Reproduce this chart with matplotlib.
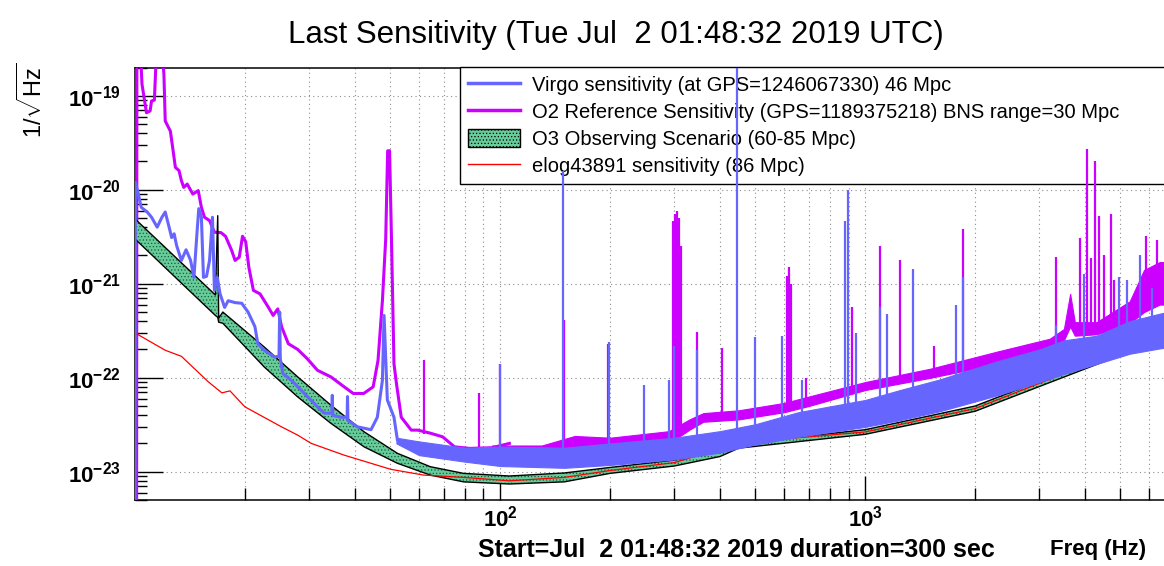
import numpy as np
import matplotlib.pyplot as plt
from matplotlib.lines import Line2D
from matplotlib.patches import Patch
from matplotlib.ticker import FixedLocator, LogLocator, FuncFormatter, NullFormatter

plt.rcParams['font.family'] = ['Liberation Sans', 'DejaVu Sans']
plt.rcParams['mathtext.fontset'] = 'custom'
plt.rcParams['mathtext.rm'] = 'Liberation Sans'
plt.rcParams['mathtext.bf'] = 'Liberation Sans:bold'
plt.rcParams['mathtext.it'] = 'Liberation Sans:italic'
plt.rcParams['hatch.linewidth'] = 0.5

# Virgo sensitivity, low-frequency trace (Hz, 1/sqrt(Hz))
virgo_f = [10.0, 10.02, 10.2, 10.4, 10.8, 11.1, 11.5, 11.85, 12.1, 12.4, 12.6, 12.8, 13.0, 13.4,
           13.8, 14.2, 14.5, 14.8, 14.95, 15.2, 15.4, 15.7, 16.0, 16.3, 16.5, 16.8, 17.1, 17.6,
           18.0, 18.8, 19.6, 20.4, 21.3, 21.7, 22.6, 24.1, 24.8, 24.9, 25.0, 25.4, 26.8, 29.1,
           31.6, 33.0, 34.6, 34.7, 34.8, 36.6, 38.1, 38.2, 38.3, 40.7, 44.3, 46.1, 47.6, 48.1,
           49.1, 51.2, 52.3]
virgo_v = [1e-24, 1.2e-20, 9.2e-21, 6.5e-21, 5.8e-21, 5.1e-21, 4.0e-21, 5.1e-21, 5.8e-21, 4.0e-21,
           3.1e-21, 3.4e-21, 2.55e-21, 1.77e-21, 2.3e-21, 1.77e-21, 1.17e-21, 3.7e-21, 6.3e-21,
           5.1e-21, 1.17e-21, 1.2e-21, 1.77e-21, 5.1e-21, 8.5e-22, 1.17e-21, 7.8e-22, 5.6e-22,
           6.6e-22, 6.3e-22, 6.2e-22, 5.0e-22, 3.5e-22, 2.3e-22, 1.96e-22, 1.66e-22, 1.7e-22,
           5.0e-22, 1.6e-22, 1.11e-22, 9.4e-23, 6.8e-23, 4.9e-23, 4.2e-23, 4.2e-23, 6.5e-23,
           4.0e-23, 3.8e-23, 3.8e-23, 6.3e-23, 3.5e-23, 3.0e-23, 2.8e-23, 3.8e-23, 9.4e-23,
           4.6e-22, 5.8e-23, 3.8e-23, 2.2e-23]
# Virgo noise band above ~50 Hz
vband_f = [52, 60, 80, 100, 150, 200, 300, 400, 500, 656, 1000, 1230, 1600, 2300, 3000, 3500,
           4300, 5300, 6400, 8000]
vband_lo = [2.0e-23, 1.5e-23, 1.28e-23, 1.15e-23, 1.1e-23, 1.18e-23, 1.35e-23, 1.6e-23, 1.95e-23,
            2.35e-23, 3.0e-23, 3.5e-23, 4.4e-23, 6.5e-23, 9.0e-23, 1.1e-22, 1.4e-22, 1.8e-22,
            2.05e-22, 2.3e-22]
vband_hi = [2.3e-23, 2.1e-23, 1.8e-23, 1.85e-23, 1.8e-23, 2.0e-23, 2.3e-23, 2.7e-23, 3.2e-23,
            4.3e-23, 5.8e-23, 7.3e-23, 9.6e-23, 1.5e-22, 2.0e-22, 2.5e-22, 2.8e-22, 4.0e-22,
            4.8e-22, 5.8e-22]
# Virgo lines
vline_f = [100, 148.7, 198.6, 248, 290, 300, 347, 446, 499, 592, 670, 880, 899, 946, 1100, 1145,
           1352, 1774, 1849, 3320, 3975, 4943, 5200, 5660, 6100]
vline_top = [1.41e-22, 1.6e-20, 2.4e-22, 8.3e-23, 9.4e-23, 2.2e-22, 1.96e-22, 1e-18, 2.7e-22,
             2.8e-22, 9.4e-23, 4.6e-21, 1.0e-20, 3.0e-22, 5.6e-22, 4.8e-22, 1.45e-21, 5.9e-22,
             1.17e-21, 3.6e-22, 1.28e-21, 1.17e-21, 1.1e-21, 2.0e-21, 9e-22]
vline_base = [1.5e-23, 1.5e-23, 1.6e-23, 1.8e-23, 2.0e-23, 2.0e-23, 2.2e-23, 2.5e-23, 2.6e-23,
              3.0e-23, 3.4e-23, 4.0e-23, 4.0e-23, 4.2e-23, 5.0e-23, 5.2e-23, 6.0e-23, 8e-23,
              8.5e-23, 1.8e-22, 2.2e-22, 2.8e-22, 3.0e-22, 3.2e-22, 3.5e-22]

# O2 reference sensitivity
o2_f = [10.1, 10.12, 10.35, 10.45, 10.75, 11.0, 11.1, 11.3, 11.45, 11.85, 12.0, 12.1, 12.5, 12.7,
        12.9, 13.2, 13.4, 13.6, 13.9, 14.4, 14.9, 15.2, 15.5, 16.0, 16.5, 17.2, 17.7, 18.4, 18.8,
        19.3, 19.7, 20.1, 20.5, 21.1, 22.0, 23.2, 23.9, 24.6, 25.2, 26.3, 27.9, 29.6, 31.6, 34.4,
        37.4, 39.6, 42.3, 44.9, 46.3, 47.6, 48.6, 49.2, 49.8, 50.4, 51.2, 52.0, 53.6, 57.1, 59.5,
        64.4, 69.6, 75.0, 82.5, 95.0, 106]
o2_v = [1e-24, 3e-19, 3e-19, 1.33e-19, 6.6e-20, 6.9e-20, 8.8e-20, 9.0e-20, 3e-19, 3e-19, 1.7e-19,
        5.4e-20, 4.2e-20, 2.7e-20, 1.73e-20, 1.6e-20, 1.25e-20, 1.06e-20, 1.15e-20, 9.0e-21,
        9.8e-21, 6.5e-21, 5.1e-21, 4.7e-21, 3.53e-21, 3.5e-21, 3.2e-21, 2.26e-21, 1.77e-21,
        1.92e-21, 3.2e-21, 2.8e-21, 1.5e-21, 8.5e-22, 7.8e-22, 5.6e-22, 4.6e-22, 5.4e-22, 3.5e-22,
        2.3e-22, 2.0e-22, 1.6e-22, 1.2e-22, 1.02e-22, 8.0e-23, 6.8e-23, 6.8e-23, 8.0e-23, 1.53e-22,
        6.6e-22, 3e-21, 2.6e-20, 2.6e-20, 3e-21, 1.41e-22, 8.7e-23, 3.8e-23, 2.77e-23, 2.77e-23,
        2.57e-23, 2.35e-23, 1.84e-23, 1.77e-23, 1.8e-23, 2.0e-23]
o2band_f = [95, 130, 160, 200, 290, 330, 360, 450, 600, 700, 1000, 1510, 2300, 3200, 3500, 3640,
            3750, 4300, 5300, 5800, 6400, 8000]
o2band_lo = [1.6e-23, 1.6e-23, 1.75e-23, 1.75e-23, 2.0e-23, 2.8e-23, 3.4e-23, 3.6e-23, 4.3e-23,
             5.0e-23, 7.4e-23, 1.0e-22, 1.4e-22, 2.1e-22, 2.5e-22, 3.5e-22, 2.8e-22, 2.9e-22,
             3.8e-22, 5e-22, 6e-22, 6e-22]
o2band_hi = [1.9e-23, 1.9e-23, 2.4e-23, 2.3e-23, 2.7e-23, 3.6e-23, 4.2e-23, 4.5e-23, 5.4e-23,
             6.3e-23, 9.0e-23, 1.25e-22, 1.9e-22, 2.6e-22, 3.3e-22, 7.8e-22, 3.9e-22, 3.9e-22,
             6.5e-22, 1.4e-21, 1.7e-21, 1.7e-21]
o2line_f = [61.8, 87.3, 100, 150, 197, 298, 302, 305, 309, 312, 347, 406, 610, 617, 625, 690,
            921, 1098, 1248, 1538, 1855, 3320, 3880, 4050, 4150, 4260, 4370, 4500, 4700, 4800,
            5880, 6280]
o2line_top = [1.53e-22, 6.8e-23, 1.41e-22, 4.1e-22, 2.3e-22, 4.7e-21, 5.5e-21, 6.0e-21, 5.0e-21,
              2.5e-21, 3.06e-22, 2.05e-22, 1.2e-21, 1.5e-21, 1.0e-21, 1.0e-22, 5.6e-22,
              2.55e-21, 1.77e-21, 2.2e-22, 3.84e-21, 1.92e-21, 3.1e-21, 2.7e-20, 1.9e-21, 2.0e-20,
              5.3e-21, 2.0e-21, 5.5e-21, 1.1e-21, 3.2e-21, 2.9e-21]
o2line_base = [2.5e-23, 1.8e-23, 1.7e-23, 1.7e-23, 1.8e-23, 2.2e-23, 2.3e-23, 2.4e-23, 2.5e-23,
               2.6e-23, 3.2e-23, 3.5e-23, 4.3e-23, 4.3e-23, 4.4e-23, 5.0e-23, 7e-23,
               8e-23, 9e-23, 1.0e-22, 1.2e-22, 2.1e-22, 2.9e-22, 2.9e-22, 2.9e-22, 2.9e-22,
               3.0e-22, 3.0e-22, 3.2e-22, 3.2e-22, 5e-22, 6e-22]

# O3 observing scenario band (60-85 Mpc)
o3_f = [10, 16.6, 16.85, 16.95, 17.4, 22.6, 27.9, 34.4, 42.4, 52.3, 64.4, 79.4, 106, 150, 200,
        300, 400, 450, 1000, 2000, 5500, 8000]
o3_hi = [4.9e-21, 7.6e-22, 5.3e-21, 4.3e-22, 5.0e-22, 2.12e-22, 1.02e-22, 5.1e-23, 2.66e-23,
         1.57e-23, 1.13e-23, 9.6e-24, 9.0e-24, 9.7e-24, 1.11e-23, 1.33e-23, 1.64e-23, 2.0e-23,
         2.8e-23, 5.0e-23, 2.3e-22, 3.2e-22]
o3_lo = [3.0e-21, 4.6e-22, 4.4e-22, 3.9e-22, 3.8e-22, 1.30e-22, 6.25e-23, 3.27e-23, 1.84e-23,
         1.23e-23, 9.2e-24, 7.8e-24, 7.4e-24, 7.8e-24, 9.6e-24, 1.15e-23, 1.45e-23, 1.78e-23,
         2.5e-23, 4.4e-23, 2.0e-22, 2.8e-22]

# elog43891 sensitivity
elog_f = [10, 12.1, 13.4, 15.9, 17.3, 18.2, 20, 25.2, 27.9, 30.4, 37.4, 50.2, 61.8, 79.4, 106,
          150, 200, 300, 366, 431, 1000, 2000, 5500, 8000]
elog_v = [3.0e-22, 1.96e-22, 1.69e-22, 9.0e-23, 6.9e-23, 7.25e-23, 4.9e-23, 3.0e-23, 2.45e-23,
          2.0e-23, 1.5e-23, 1.06e-23, 9.2e-24, 8.7e-24, 8.0e-24, 8.7e-24, 1.03e-23, 1.25e-23,
          1.58e-23, 2.0e-23, 2.65e-23, 4.7e-23, 2.2e-22, 3.0e-22]

labels = ['Virgo sensitivity (at GPS=1246067330) 46 Mpc',
          'O2 Reference Sensitivity (GPS=1189375218) BNS range=30 Mpc',
          'O3 Observing Scenario (60-85 Mpc)',
          'elog43891 sensitivity (86 Mpc)']
y_ticks = [1e-23, 1e-22, 1e-21, 1e-20, 1e-19]
x_ticks = [100, 1000]

blue = '#6666ff'
magenta = '#cc00ff'
green = '#66cc99'

W, H = 1164, 566
fig = plt.figure(figsize=(W / 100, H / 100), dpi=100)
ax = fig.add_axes([135 / W, 66 / H, (1195 - 135) / W, 432.5 / H])
ax.set_xscale('log')
ax.set_yscale('log')
ax.set_xlim(10, 8000)
ax.set_ylim(5e-24, 2e-19)

# O2 reference
ax.plot(o2_f, o2_v, color=magenta, lw=2.2, zorder=2)
ax.fill_between(o2band_f, o2band_lo, o2band_hi, color=magenta, lw=0.8, zorder=2)
ax.vlines(o2line_f, o2line_base, o2line_top, color=magenta, lw=1.6, zorder=2)

# O3 scenario band
ax.fill_between(o3_f, o3_lo, o3_hi, facecolor=green, edgecolor='none', zorder=3)
ax.fill_between(o3_f, o3_lo, o3_hi, facecolor='none', edgecolor='#1d5a3c', hatch='.....',
                lw=0, zorder=3)
ax.plot(o3_f, o3_hi, color='k', lw=1, zorder=3)
ax.plot(o3_f, o3_lo, color='k', lw=1, zorder=3)

# elog
ax.plot(elog_f, elog_v, color='red', lw=0.9, zorder=4)

# Virgo
ax.plot(virgo_f, virgo_v, color=blue, lw=2.2, zorder=5)
ax.fill_between(vband_f, vband_lo, vband_hi, color=blue, lw=0.8, zorder=5)
ax.vlines(vline_f, vline_base, vline_top, color=blue, lw=1.6, zorder=5)

# axes styling
fmt = FuncFormatter(lambda v, p: r'$\mathbf{10^{%d}}$' % round(np.log10(v)))
ax.xaxis.set_major_locator(FixedLocator(x_ticks))
ax.xaxis.set_minor_locator(LogLocator(base=10, subs=np.arange(2, 10)))
ax.xaxis.set_major_formatter(fmt)
ax.xaxis.set_minor_formatter(NullFormatter())
ax.yaxis.set_major_locator(FixedLocator(y_ticks))
ax.yaxis.set_minor_locator(LogLocator(base=10, subs=np.arange(2, 10)))
ax.yaxis.set_major_formatter(fmt)
ax.yaxis.set_minor_formatter(NullFormatter())

ax.tick_params(axis='y', which='major', direction='in', length=20, width=1, labelsize=16, pad=10)
ax.tick_params(axis='y', which='minor', direction='in', length=8.5, width=1)
ax.tick_params(axis='x', which='major', direction='in', length=17, width=1, labelsize=16, pad=4)
ax.tick_params(axis='x', which='minor', direction='in', length=8.5, width=1)

ax.set_axisbelow(True)
ax.xaxis.grid(True, which='both', ls=(0, (1, 3)), color='#8c8c8c', lw=0.8)
ax.yaxis.grid(True, which='major', ls=(0, (1, 3)), color='#8c8c8c', lw=0.8)
for s in ax.spines.values():
    s.set_linewidth(1.1)
    s.set_zorder(1)
ax.spines['right'].set_visible(False)

handles = [Line2D([], [], color=blue, lw=2.5),
           Line2D([], [], color=magenta, lw=2.5),
           Patch(facecolor=green, edgecolor='k', hatch='.....', lw=1),
           Line2D([], [], color='red', lw=1)]
leg = ax.legend(handles, labels, loc='upper left', mode='expand',
                bbox_to_anchor=(460 / W, 0, 0.7, (H - 67) / H), bbox_transform=fig.transFigure,
                fontsize=14.5, frameon=True, fancybox=False, edgecolor='k', framealpha=1,
                borderaxespad=0, borderpad=0.4, labelspacing=0.35, handlelength=2.6,
                handleheight=1.0, handletextpad=0.6)
leg.get_frame().set_linewidth(1)
leg.set_zorder(1.5)

fig.text(616 / W, 1 - 35 / H, 'Last Sensitivity (Tue Jul  2 01:48:32 2019 UTC)',
         ha='center', va='center', fontsize=22.5)
fig.text(32 / W, 1 - 100 / H, r'$1/\sqrt{\mathrm{Hz}}$', rotation=90, ha='center', va='center',
         fontsize=17)
fig.text(478 / W, 1 - 550 / H, 'Start=Jul  2 01:48:32 2019 duration=300 sec',
         ha='left', va='center', fontsize=18, fontweight='bold')
ax.set_xlabel('Freq (Hz)', fontsize=16, fontweight='bold', ha='right', va='center')
ax.xaxis.set_label_coords((1146 - 135) / (1195 - 135), -(550 - 500) / 432.5)

fig.savefig('out.png', dpi=100)
